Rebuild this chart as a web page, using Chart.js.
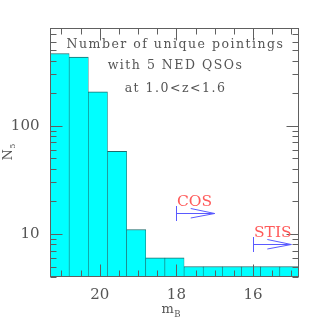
<!DOCTYPE html>
<html><head><meta charset="utf-8">
<script src="https://cdn.jsdelivr.net/npm/chart.js@4"></script>
<style>html,body{margin:0;padding:0;background:#fff;}canvas{display:block}</style>
</head><body>
<canvas id="c" width="327" height="327"></canvas>
<script>
// ---- data ----
const binCenters = [21.05, 20.55, 20.05, 19.55, 19.05, 18.55, 18.05, 17.55, 17.05, 16.55, 16.05, 15.55, 15.05];
const counts     = [465, 430, 206, 58, 11, 6, 6, 5, 5, 5, 5, 5, 5];
const xTickLabels = [20, 18, 16];
const yTickLabels = [10, 100];
const xRange = [14.8, 21.3];
const yRange = [4, 800];
const titleLines = ['Number of unique pointings', 'with 5 NED QSOs', 'at 1.0<z<1.6'];
const limitNames = ['COS', 'STIS'];
const limitFrom  = [18.0, 16.0];
const limitTo    = [17.0, 15.0];
const limitLevel = [15.5, 8.0];

const SERIF = '"DejaVu Serif", "Liberation Serif", serif';
const TEXT = '#555';

const decorPlugin = {
  id: 'decor',
  afterDatasetsDraw(chart) {
    const {ctx, chartArea: a, scales: {x, y}} = chart;
    ctx.save();
    ctx.strokeStyle = '#606060';
    ctx.lineWidth = 1;
    const L = Math.round(a.left) + 0.5, R = Math.round(a.right) - 0.5;
    const T = Math.round(a.top) + 0.5, B = Math.round(a.bottom) - 0.5;
    ctx.strokeRect(L, T, R - L, B - T);
    ctx.beginPath();
    // x ticks (major at labels, minor every 0.5)
    for (let k = Math.ceil(xRange[0] * 2); k <= Math.floor(xRange[1] * 2); k++) {
      const v = k / 2;
      const len = xTickLabels.includes(v) ? 12 : 6;
      const px = Math.round(x.getPixelForValue(v)) + 0.5;
      ctx.moveTo(px, B); ctx.lineTo(px, B - len);
      ctx.moveTo(px, T); ctx.lineTo(px, T + len);
    }
    // y ticks (log)
    for (let d = 1; d <= 100; d *= 10) {
      for (let m = 1; m <= 9; m++) {
        const v = m * d;
        if (v < yRange[0] || v > yRange[1]) continue;
        const len = yTickLabels.includes(v) ? 12 : 6;
        const py = Math.round(y.getPixelForValue(v)) + 0.5;
        ctx.moveTo(L, py); ctx.lineTo(L + len, py);
        ctx.moveTo(R, py); ctx.lineTo(R - len, py);
      }
    }
    ctx.stroke();

    // annotation text block
    ctx.fillStyle = TEXT;
    ctx.font = '12.5px ' + SERIF;
    ctx.textAlign = 'center';
    ctx.textBaseline = 'alphabetic';
    try { ctx.letterSpacing = '1.5px'; } catch (e) {}
    const cx = (a.left + a.right) / 2 + 1;
    const baseOffs = [19.6, 41.2, 64.4];
    titleLines.forEach((t, i) => ctx.fillText(t, cx, a.top + baseOffs[i]));
    try { ctx.letterSpacing = '0px'; } catch (e) {}

    // limit arrows
    for (let i = 0; i < limitNames.length; i++) {
      const x0 = Math.round(x.getPixelForValue(limitFrom[i])) + 0.5;
      const x1 = x.getPixelForValue(limitTo[i]);
      const yy = Math.round(y.getPixelForValue(limitLevel[i])) + 0.5;
      ctx.strokeStyle = '#5a5aff';
      ctx.beginPath();
      ctx.moveTo(x0, yy - 7.5); ctx.lineTo(x0, yy + 7.5);
      ctx.moveTo(x0, yy); ctx.lineTo(x1, yy);
      ctx.moveTo(x1 - 24, yy - 5); ctx.lineTo(x1, yy); ctx.lineTo(x1 - 24, yy + 4.5);
      ctx.stroke();
      ctx.fillStyle = '#ff5a5a';
      ctx.font = '15.5px ' + SERIF;
      ctx.textAlign = 'left';
      ctx.fillText(limitNames[i], x0 + 0.5, yy - 7.5);
    }

    // axis titles
    ctx.fillStyle = TEXT;
    ctx.textAlign = 'left';
    ctx.font = '13px ' + SERIF;
    ctx.save();
    ctx.translate(11.7, 160.5);
    ctx.rotate(-Math.PI / 2);
    ctx.fillText('N', 0, 0);
    const wN = ctx.measureText('N').width;
    ctx.font = '8px ' + SERIF;
    ctx.fillText('5', wN + 0.5, 3.3);
    ctx.restore();
    ctx.font = '13px ' + SERIF;
    ctx.fillText('m', 161.5, 313);
    const wm = ctx.measureText('m').width;
    ctx.font = '8.5px ' + SERIF;
    ctx.fillText('B', 161.5 + wm + 0.5, 316.5);
    ctx.restore();
  }
};

new Chart(document.getElementById('c'), {
  type: 'bar',
  data: {
    datasets: [{
      data: binCenters.map((v, i) => ({x: v, y: counts[i]})),
      backgroundColor: '#00ffff',
      borderColor: '#1d6b6b',
      borderWidth: {top: 1, left: 0.6, right: 0.6, bottom: 0},
      borderSkipped: false,
      barPercentage: 1,
      categoryPercentage: 1
    }]
  },
  options: {
    responsive: false,
    animation: false,
    devicePixelRatio: 1,
    layout: {padding: {top: 28, right: 28, left: 0, bottom: 0}},
    plugins: {legend: {display: false}, tooltip: {enabled: false}},
    scales: {
      x: {
        type: 'linear', reverse: true, min: xRange[0], max: xRange[1], offset: false,
        grid: {display: false, drawTicks: false}, border: {display: false},
        afterBuildTicks(s) { s.ticks = xTickLabels.map(v => ({value: v})); },
        afterFit(s) { s.height = 50; },
        ticks: {padding: 9, autoSkip: false, maxRotation: 0, color: TEXT,
          font: {family: SERIF, size: 15}, callback: v => String(v)}
      },
      y: {
        type: 'logarithmic', min: yRange[0], max: yRange[1],
        grid: {display: false, drawTicks: false}, border: {display: false},
        afterBuildTicks(s) { s.ticks = yTickLabels.map(v => ({value: v})); },
        afterFit(s) { s.width = 50; },
        ticks: {padding: 10.5, color: TEXT, font: {family: SERIF, size: 15}, callback: v => String(v)}
      }
    }
  },
  plugins: [decorPlugin]
});
</script>
</body></html>
